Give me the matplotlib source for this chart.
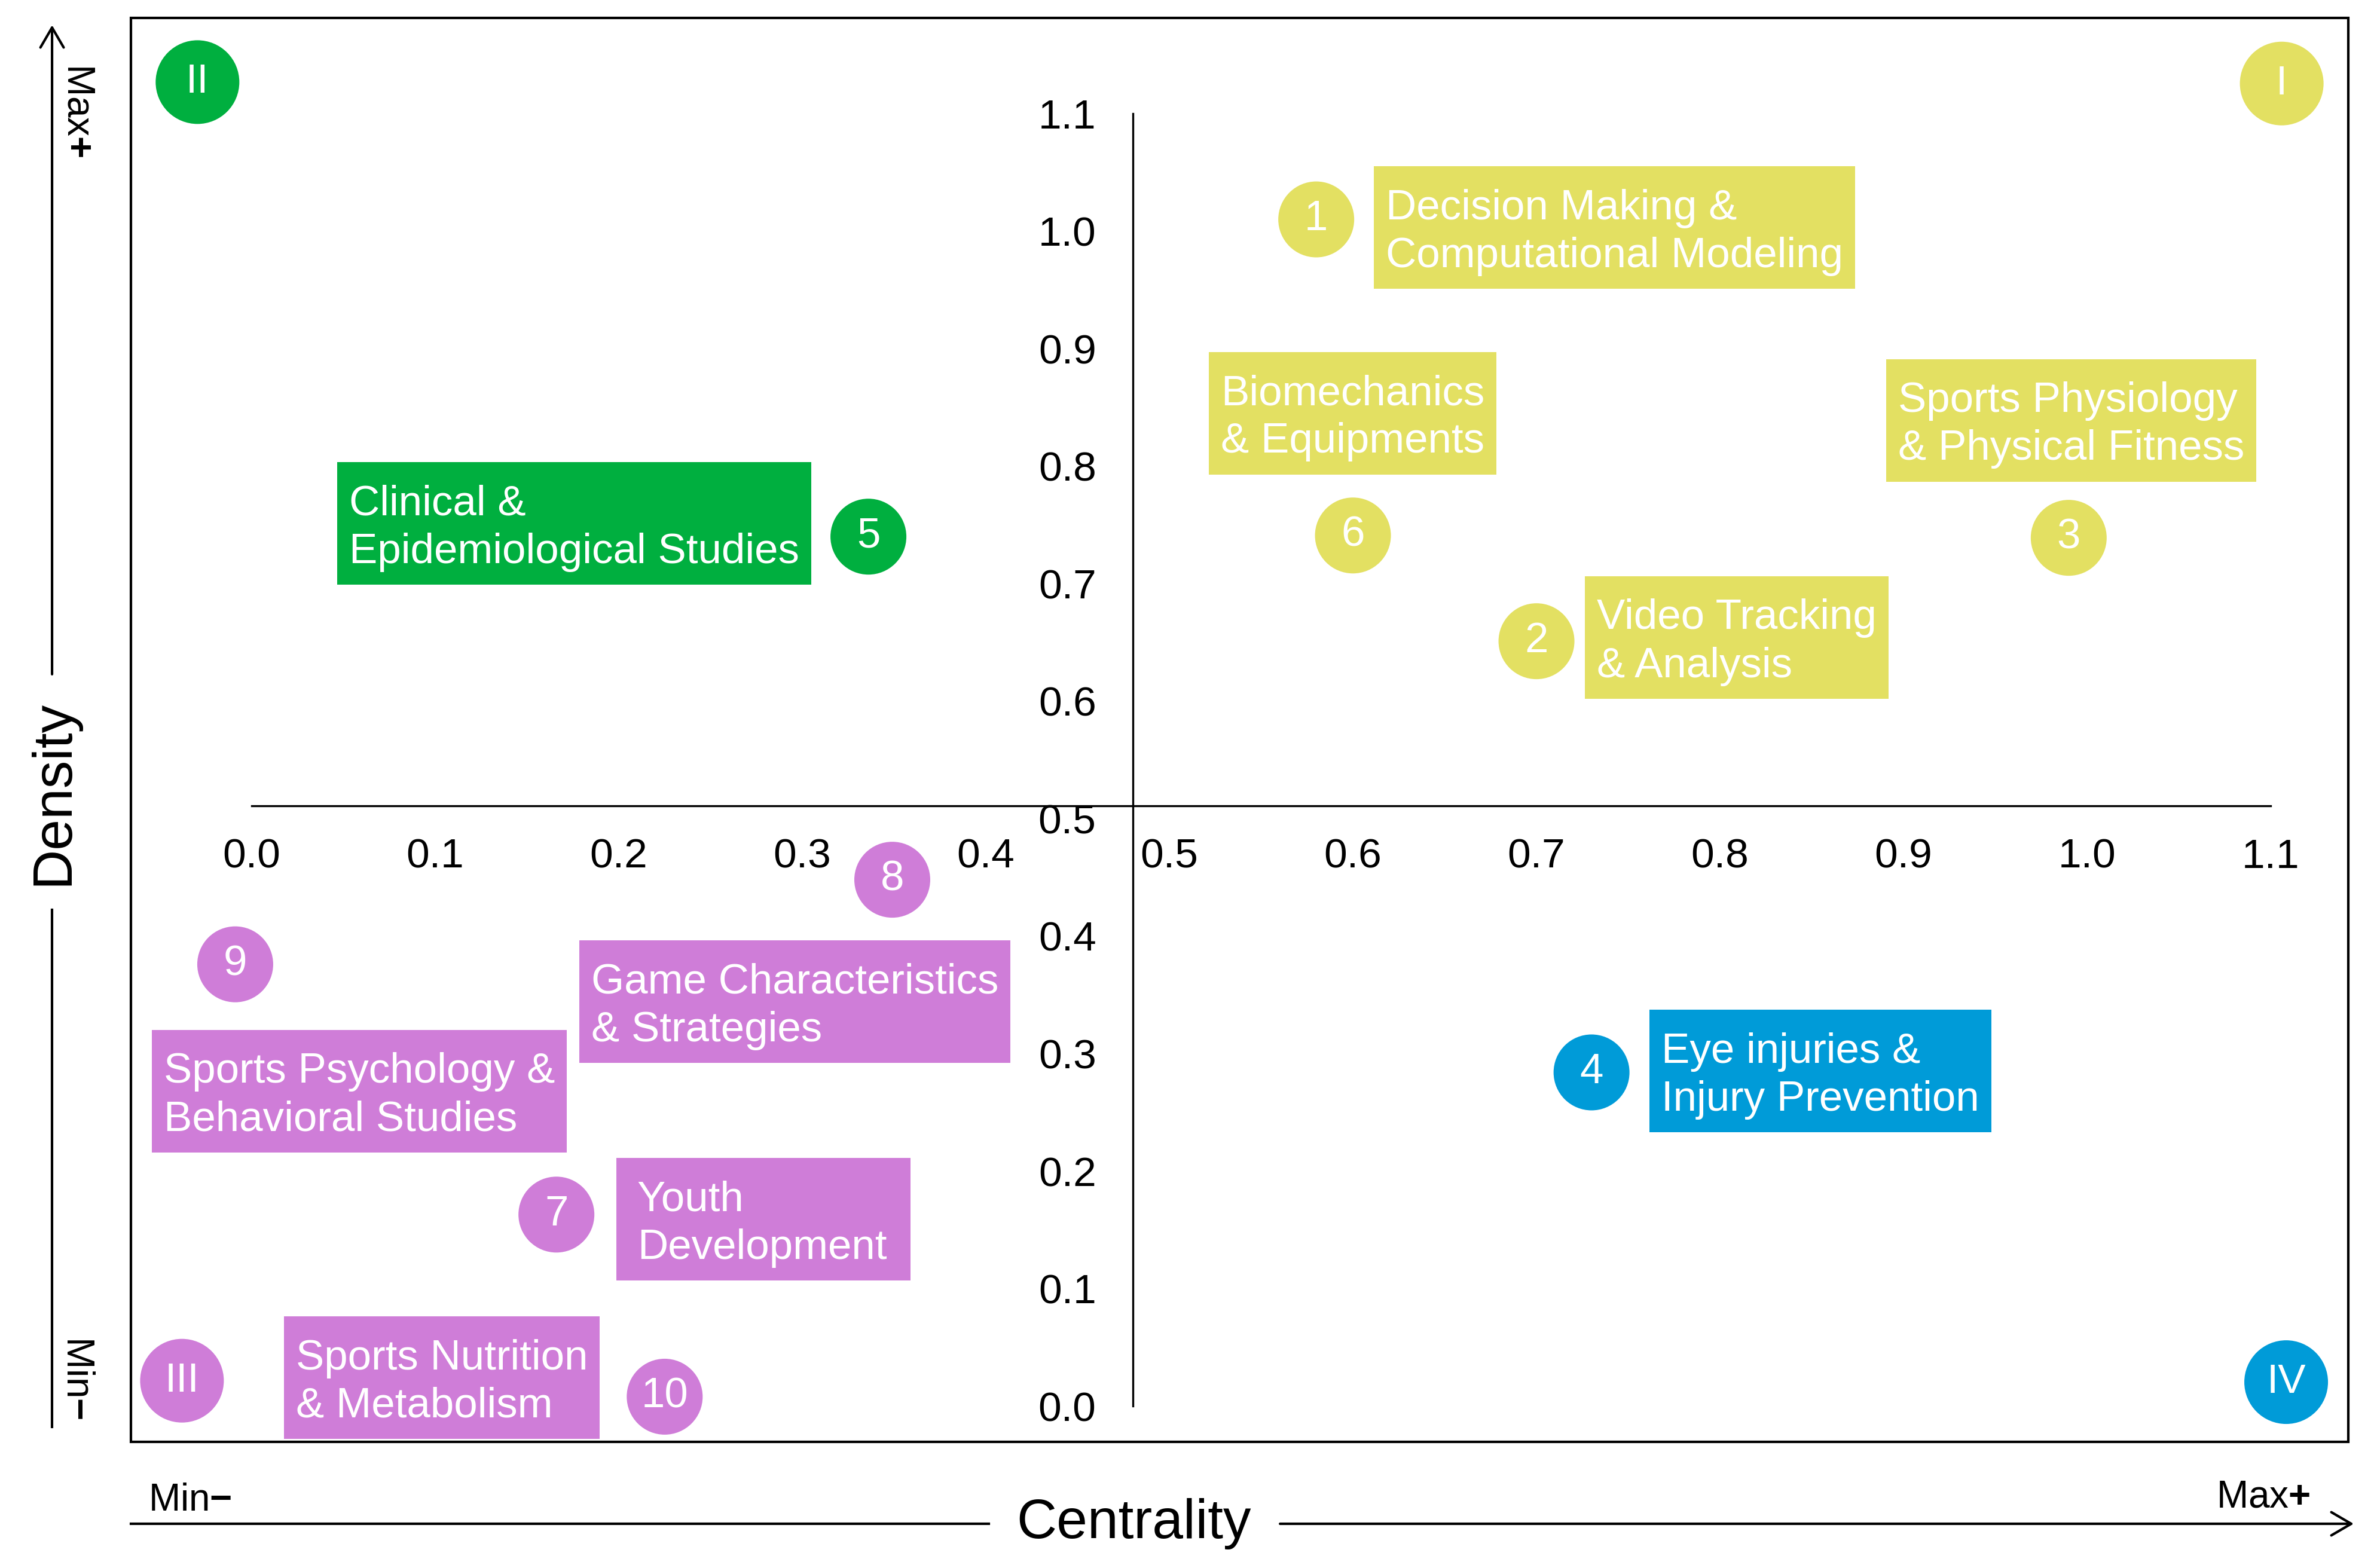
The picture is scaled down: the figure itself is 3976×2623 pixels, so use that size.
import matplotlib.pyplot as plt
from matplotlib.patches import Rectangle
from matplotlib.lines import Line2D

plt.rcParams['font.family'] = ['Liberation Sans', 'DejaVu Sans']
plt.rcParams['mathtext.fontset'] = 'custom'
plt.rcParams['mathtext.rm'] = 'Liberation Sans'
plt.rcParams['mathtext.bf'] = 'Liberation Sans:bold'

# cluster data (centrality, density)
cluster_ids = [1, 2, 3, 4, 5, 6, 7, 8, 9, 10]
cluster_names = [
    "Decision Making &\nComputational Modeling",
    "Video Tracking\n& Analysis",
    "Sports Physiology\n& Physical Fitness",
    "Eye injuries &\nInjury Prevention",
    "Clinical &\nEpidemiological Studies",
    "Biomechanics\n& Equipments",
    "Youth\nDevelopment",
    "Game Characteristics\n& Strategies",
    "Sports Psychology &\nBehavioral Studies",
    "Sports Nutrition\n& Metabolism",
]
centrality = [0.58, 0.70, 0.99, 0.73, 0.336, 0.60, 0.166, 0.349, -0.009, 0.225]
density = [1.01, 0.651, 0.739, 0.284, 0.74, 0.741, 0.163, 0.448, 0.376, 0.008]
quadrant = ["I", "I", "I", "IV", "II", "I", "III", "III", "III", "III"]

ticks = [0.0, 0.1, 0.2, 0.3, 0.4, 0.5, 0.6, 0.7, 0.8, 0.9, 1.0, 1.1]

quad_colors = {"I": "#E3E062", "II": "#00AF3F", "III": "#CF7DD8", "IV": "#009BD8"}

# where each label box sits (left edge of text, vertical centre), data coords
label_pos = [(0.618, 0.999), (0.733, 0.650), (0.897, 0.835), (0.768, 0.281),
             (0.053, 0.747), (0.528, 0.841), (0.210, 0.155), (0.185, 0.340),
             (-0.048, 0.264), (0.024, 0.020)]
# extra horizontal room for a few boxes (pixels)
extra_right = [0, 0, 0, 0, 0, 0, 20, 0, 0, 0]
extra_left = [0, 0, 0, 0, 0, 0, 15, 0, 0, 0]
# quadrant badges, axes fraction
quad_pos = {"I": (0.970, 0.954), "II": (0.030, 0.955),
            "III": (0.023, 0.043), "IV": (0.972, 0.042)}

fig = plt.figure(figsize=(19.88, 13.115), dpi=200)
ax = fig.add_axes([0.0551, 0.0804, 0.9328, 0.9081])
ax.set_xlim(-0.0658, 1.1423)
ax.set_ylim(-0.0305, 1.1814)

# crossing axes
for s in ["top", "right"]:
    ax.spines[s].set_visible(False)
ax.spines["left"].set_position(("data", 0.48))
ax.spines["bottom"].set_position(("data", 0.511))
ax.spines["left"].set_bounds(0, 1.1)
ax.spines["bottom"].set_bounds(0, 1.1)
ax.spines["left"].set_linewidth(1.2)
ax.spines["bottom"].set_linewidth(1.2)
ax.set_xticks(ticks)
ax.set_yticks(ticks)
ax.set_xticklabels([f"{t:.1f}" for t in ticks])
ax.set_yticklabels([f"{t:.1f}" for t in ticks])
ax.tick_params(axis="x", length=0, pad=19.5, labelsize=25)
ax.tick_params(axis="y", length=0, pad=22, labelsize=25)

# outer frame
ax.add_patch(Rectangle((0, 0), 1, 1, transform=ax.transAxes, fill=False,
                       lw=1.5, ec="black", clip_on=False, zorder=10))

# clusters
cols = [quad_colors[q] for q in quadrant]
ax.scatter(centrality, density, s=2090, c=cols, edgecolors="none", zorder=5, clip_on=False)
labels = []
for i, cid in enumerate(cluster_ids):
    ax.text(centrality[i], density[i], str(cid), color="white", fontsize=25.5,
            ha="center", va="center", zorder=6)
    lx, ly = label_pos[i]
    labels.append(ax.text(lx, ly, cluster_names[i], color="white", fontsize=25.5,
                          ha="left", va="center", linespacing=1.28, zorder=4))

# coloured boxes behind the labels
fig.canvas.draw()
renderer = fig.canvas.get_renderer()
inv = ax.transData.inverted()
box_h = 205   # px
pad_x = 20    # px
for i, t in enumerate(labels):
    bb = t.get_window_extent(renderer)
    cy = (bb.y0 + bb.y1) / 2 + 8
    x0, y0 = inv.transform((bb.x0 - pad_x - extra_left[i], cy - box_h / 2))
    x1, y1 = inv.transform((bb.x1 + pad_x + extra_right[i], cy + box_h / 2))
    ax.add_patch(Rectangle((x0, y0), x1 - x0, y1 - y0, fc=cols[i], ec="none",
                           zorder=3, clip_on=False))

# quadrant badges
for q, (qx, qy) in quad_pos.items():
    ax.scatter([qx], [qy], s=2540, c=quad_colors[q], edgecolors="none",
               transform=ax.transAxes, zorder=5, clip_on=False)
    ax.text(qx, qy, q, color="white", fontsize=25, ha="center", va="center",
            transform=ax.transAxes, zorder=6)

# outer arrows: Density (vertical) and Centrality (horizontal)
lw = 1.5
fig.add_artist(Line2D([0.0219, 0.0219], [0.090, 0.4197], lw=lw, color="black"))
ax.annotate("", xy=(0.0219, 0.984), xytext=(0.0219, 0.570), xycoords="figure fraction",
            arrowprops=dict(arrowstyle="->,head_length=0.6,head_width=0.35",
                            lw=lw, color="black", mutation_scale=20, shrinkA=0, shrinkB=0))
fig.text(0.0224, 0.4945, "Density", rotation=90, fontsize=33.5, ha="center", va="center")

fig.add_artist(Line2D([0.0551, 0.416], [0.0282, 0.0282], lw=lw, color="black"))
ax.annotate("", xy=(0.9902, 0.0282), xytext=(0.5385, 0.0282), xycoords="figure fraction",
            arrowprops=dict(arrowstyle="->,head_length=0.6,head_width=0.35",
                            lw=lw, color="black", mutation_scale=20, shrinkA=0, shrinkB=0))
fig.text(0.477, 0.0282, "Centrality", fontsize=33.5, ha="center", va="center")

fig.text(0.0329, 0.9295, r"Max$\mathbf{+}$", rotation=-90, fontsize=23, ha="center", va="center")
fig.text(0.0324, 0.1212, r"Min$\mathbf{-}$", rotation=-90, fontsize=23, ha="center", va="center")
fig.text(0.9522, 0.045, r"Max$\mathbf{+}$", fontsize=23, ha="center", va="center")
fig.text(0.080, 0.0431, r"Min$\mathbf{-}$", fontsize=23, ha="center", va="center")

fig.savefig("out.png", dpi=200)
